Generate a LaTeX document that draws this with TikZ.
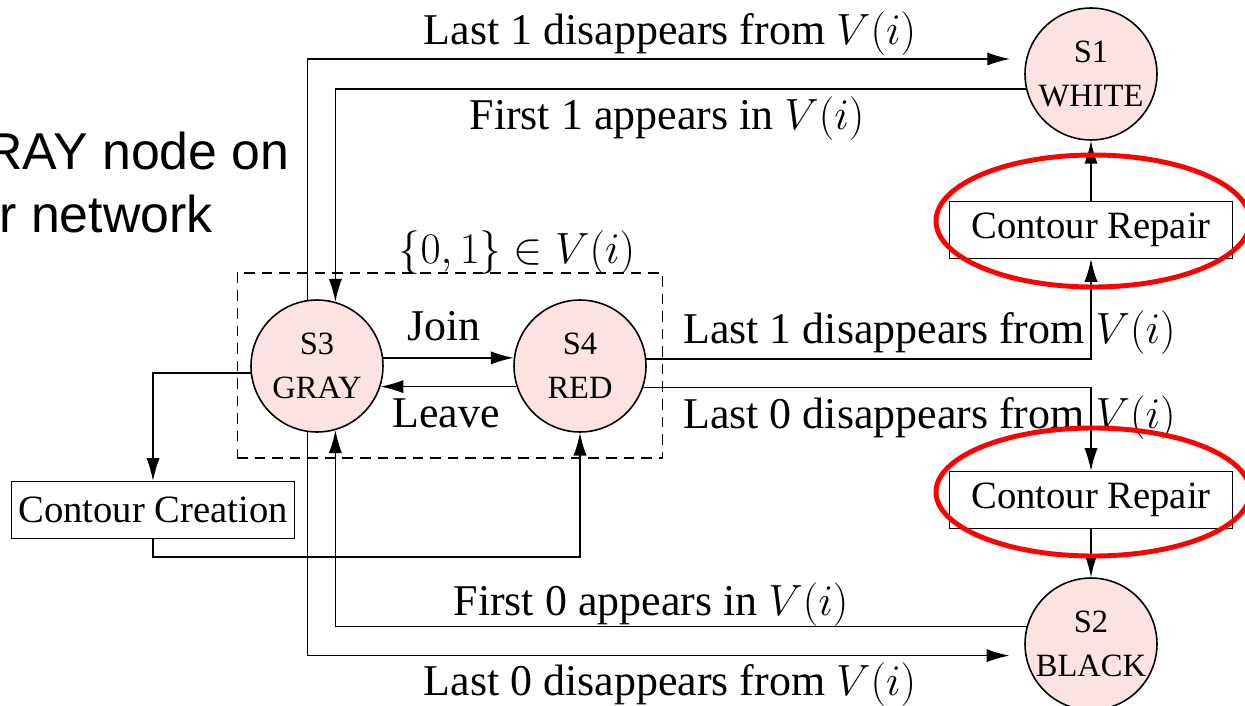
\documentclass[tikz,border=0pt]{standalone}
\usepackage{fontspec}
\setmainfont{Liberation Serif}
\newfontfamily\slidesans{Liberation Sans}
\usetikzlibrary{arrows.meta}
\definecolor{statepink}{RGB}{253,226,226}

\begin{document}
\begin{tikzpicture}[x=0.02cm,y=-0.02cm,
  stnode/.style={circle,draw,line width=0.9pt,fill=statepink,minimum size=2.64cm,
    inner sep=0pt,align=center,font=\fontsize{18.5}{25}\selectfont},
  repbox/.style={draw,line width=0.6pt,minimum width=5.66cm,minimum height=1.14cm,
    inner sep=0pt,font=\fontsize{22}{26}\selectfont},
  lbl/.style={inner sep=0pt,font=\fontsize{25}{30}\selectfont},
  slide/.style={inner sep=0pt,anchor=base east,font=\slidesans\fontsize{29.5}{35}\selectfont},
  arr/.style={line width=0.8pt,-{Latex[length=13pt,width=7.5pt]}},
  ring/.style={draw=red,line width=2.8pt}]
  \useasboundingbox (0,0) rectangle (1245,706);

  \path
  (290,170)  node[slide](titlea) {RAY node on}
  (213,233)  node[slide](titleb) {r network}

  (450,365.5) node[draw,dashed,dash pattern=on 6pt off 4pt,line width=0.6pt,
               minimum width=8.52cm,minimum height=3.7cm](grp) {}

  (1091,74)  node[stnode](s1) {S1\\WHITE}
  (1091,644) node[stnode](s2) {S2\\BLACK}
  (317,366)  node[stnode](s3) {S3\\GRAY}
  (580,366)  node[stnode](s4) {S4\\RED}

  (1091,230) node[repbox](rep1)   {Contour Repair}
  (1091,500) node[repbox](rep2)   {Contour Repair}
  (153,510)  node[repbox](create) {Contour Creation}

  (670,45)   node[lbl,anchor=base](l1top)      {Last 1 disappears from $V(i)$}
  (667,130)  node[lbl,anchor=base](f1top)      {First 1 appears in $V(i)$}
  (517,263)  node[lbl,anchor=base](grplbl)     {$\{0,1\}\in V(i)$}
  (444,340)  node[lbl,anchor=base](join)       {Join}
  (446,427)  node[lbl,anchor=base](leave)      {Leave}
  (683,343)  node[lbl,anchor=base west](l1rt)  {Last 1 disappears from $V(i)$}
  (683,428)  node[lbl,anchor=base west](l0rt)  {Last 0 disappears from $V(i)$}
  (651,615)  node[lbl,anchor=base](f0bot)      {First 0 appears in $V(i)$}
  (670,695)  node[lbl,anchor=base](l0bot)      {Last 0 disappears from $V(i)$}
  ;

  \draw[arr,shorten >=9pt] (s3.98) |- (s1.167);
  \draw[arr] (s1.193) -| (s3.74);
  \draw[arr,shorten >=9pt] (s3.262) |- (s2.190);
  \draw[arr] (s2.165) -| (s3.286);

  \draw[arr] (s3.7) -- (s4.173);
  \draw[arr] (s4.198) -- (s3.342);

  \draw[arr] (s3.186) -| (create);
  \draw[arr] (create.south) -- ++(0,18) -| (s4);

  \draw[arr] (s4.6) -| (rep1);
  \draw[arr] (s4.-19) -| (rep2);
  \draw[arr] (rep1) -- (s1);
  \draw[arr] (rep2) -- (s2);

  \draw[ring] (1093,221) ellipse [x radius=157,y radius=66];
  \draw[ring] (1093,492) ellipse [x radius=157,y radius=64];

\end{tikzpicture}
\end{document}
